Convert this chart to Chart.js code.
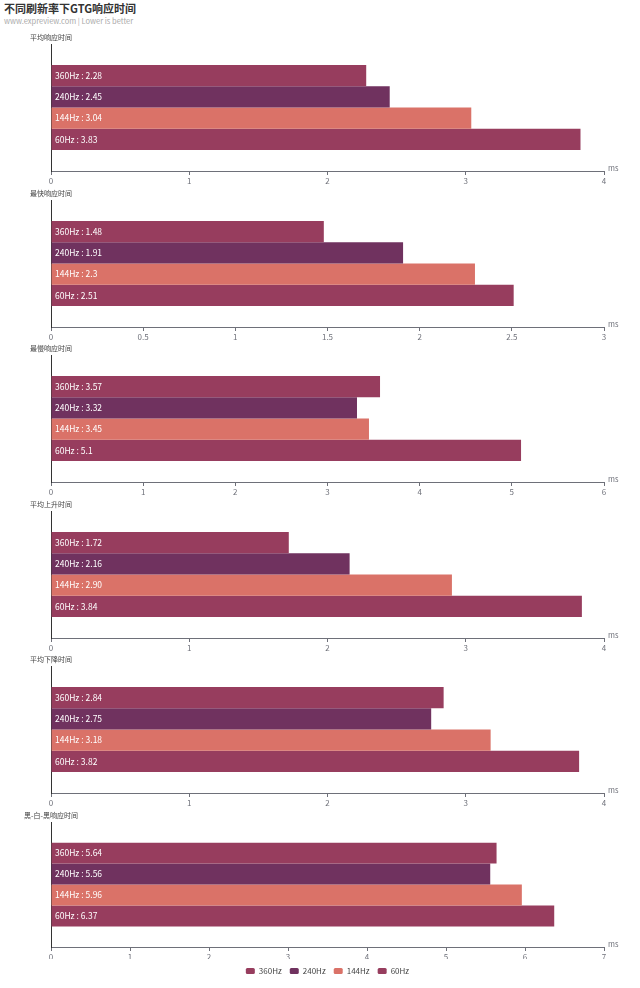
<!DOCTYPE html>
<html>
<head>
<meta charset="utf-8">
<script src="https://cdn.jsdelivr.net/npm/chart.js@4"></script>
<style>
   body { margin: 0; width: 640px; height: 988px; background: #fff; position: relative; overflow: hidden;
          font-family: 'Noto Sans CJK SC', sans-serif; }
   .title { position: absolute; left: 4px; top: 0px; font-size: 11px; font-weight: bold; color: #333; }
   .sub   { position: absolute; left: 4px; top: 15px; font-size: 7.5px; color: #aaa; }
   .panel { position: absolute; left: 0; width: 640px; }
</style>
</head>
<body>
<div class="title">不同刷新率下GTG响应时间</div>
<div class="sub">www.expreview.com | Lower is better</div>

<script>
// series (top to bottom inside every panel)
const series = ['360Hz', '240Hz', '144Hz', '60Hz'];
const colors = ['#973d5e', '#70325f', '#da7268', '#973d5e'];

// one panel per metric
const panelNames = ['平均响应时间', '最快响应时间', '最慢响应时间', '平均上升时间', '平均下降时间', '黑-白-黑响应时间'];
const avgResponse  = ['2.28', '2.45', '3.04', '3.83'];
const fastResponse = ['1.48', '1.91', '2.3', '2.51'];
const slowResponse = ['3.57', '3.32', '3.45', '5.1'];
const avgRise      = ['1.72', '2.16', '2.90', '3.84'];
const avgFall      = ['2.84', '2.75', '3.18', '3.82'];
const blackWhite   = ['5.64', '5.56', '5.96', '6.37'];
const panelValues  = [avgResponse, fastResponse, slowResponse, avgRise, avgFall, blackWhite];

// x axis range of each panel
const axisMax  = [4, 3, 6, 4, 4, 7];
const axisStep = [1, 0.5, 1, 1, 1, 1];

const FONT = "'Noto Sans CJK SC', sans-serif";
const AXIS = '#6e7079';

// draws panel name, axis unit and the labels inside the bars
const decorPlugin = {
   id: 'decor',
   afterDatasetsDraw(chart, args, opts) {
      const ctx = chart.ctx;
      const area = chart.chartArea;
      ctx.save();
      // label inside each bar
      ctx.font = '8.5px ' + FONT;
      ctx.fillStyle = '#fff';
      ctx.textAlign = 'left';
      ctx.textBaseline = 'middle';
      chart.data.datasets.forEach((ds, i) => {
         let bar = chart.getDatasetMeta(i).data[0];
         ctx.fillText(`${ds.label} : ${ds.data[0]}`, area.left + 4, bar.y);
      });
      // y axis name
      ctx.font = '7px ' + FONT;
      ctx.fillStyle = '#444';
      ctx.textAlign = 'center';
      ctx.fillText(opts.name, area.left, area.top - 7);
      // x axis name
      ctx.textAlign = 'left';
      ctx.font = '7.5px ' + FONT;
      ctx.fillStyle = AXIS;
      ctx.fillText('ms', area.right + 4, area.bottom - 3);
      ctx.restore();
   }
};

const tops = [28, 184, 339, 495, 650, 806];

panelValues.forEach((values, p) => {
   let last = (p === panelValues.length - 1);
   let canvas = document.createElement('canvas');
   canvas.className = 'panel';
   canvas.style.top = tops[p] + 'px';
   canvas.style.height = (last ? 182 : 165) + 'px';
   canvas.height = last ? 182 : 165;
   canvas.width = 640;
   document.body.appendChild(canvas);

   new Chart(canvas, {
      type: 'bar',
      plugins: [decorPlugin],
      data: {
         labels: [''],
         datasets: series.map((s, i) => ({
            label: s,
            data: [values[i]],
            backgroundColor: colors[i],
            categoryPercentage: 0.67,
            barPercentage: 1.0
         }))
      },
      options: {
         indexAxis: 'y',
         responsive: false,
         animation: false,
         layout: { padding: { top: 16, left: 51, right: 36, bottom: last ? 3 : 2 } },
         scales: {
            x: {
               min: 0,
               max: axisMax[p],
               ticks: {
                  stepSize: axisStep[p], color: AXIS, font: { family: FONT, size: 8 }, padding: 1,
                  callback: v => String(+v.toFixed(2))
               },
               grid: { display: true, drawOnChartArea: false, drawTicks: true, tickLength: 4, color: AXIS },
               border: { display: true, color: AXIS, width: 1 },
               afterFit: s => { s.height = last ? 12 : 20; }
            },
            y: {
               ticks: { display: false },
               grid: { display: false },
               border: { display: true, color: '#333', width: 1 },
               afterFit: s => { s.width = 0; }
            }
         },
         plugins: {
            decor: { name: panelNames[p] },
            tooltip: { enabled: false },
            legend: {
               display: last,
               position: 'bottom',
               labels: {
                  boxWidth: 9, boxHeight: 6, padding: 8,
                  useBorderRadius: true, borderRadius: 1.5,
                  color: '#444', font: { family: FONT, size: 8 }
               }
            }
         }
      }
   });
});
</script>
</body>
</html>
